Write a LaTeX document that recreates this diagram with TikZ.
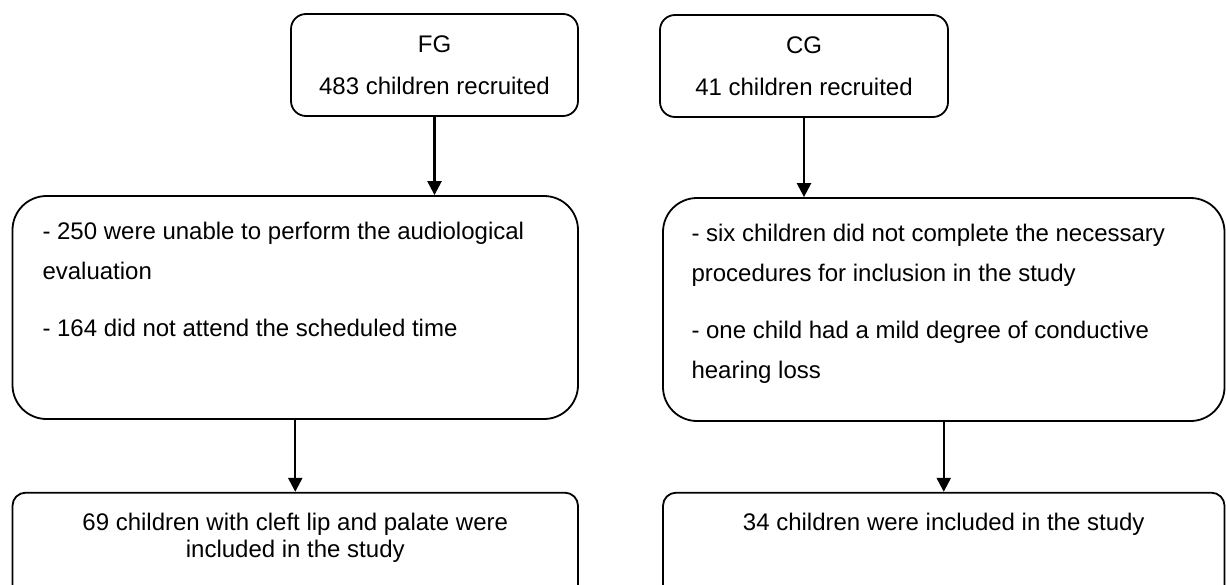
\documentclass[tikz,border=0pt]{standalone}
\usepackage{fontspec}
\setmainfont{Liberation Sans}
\usetikzlibrary{positioning,arrows.meta}

\tikzset{
  box/.style={draw, line width=0.9pt, inner sep=0pt},
  topbox/.style={box, rounded corners=7.5pt, minimum width=143.5pt, minimum height=51pt,
    align=center, font=\fontsize{12}{21}\selectfont},
  exclbox/.style={box, rounded corners=17pt, minimum height=111.5pt},
  endbox/.style={box, rounded corners=6.5pt, minimum height=60pt},
  txt/.style={inner sep=0pt, font=\fontsize{12}{20}\selectfont},
  flow/.style={-{Triangle[width=7pt,length=7pt]}, line width=1.2pt},
}

\begin{document}
\begin{tikzpicture}[x=0.5pt, y=-0.5pt]
  \useasboundingbox (0,0) rectangle (1226,584);
  \clip (0,0) rectangle (1226,584);

  % Define nodes
  \node[topbox] (fg) at (434.5,65) {FG\\483 children recruited};
  \node[topbox, minimum width=144pt] (cg) at (804,66) {CG\\41 children recruited};
  \node[exclbox, minimum width=282.75pt] (fgx) at (295.25,307.5) {};
  \node[exclbox, minimum width=280.75pt] (cgx) at (943.75,309.5) {};
  \node[endbox, minimum width=282.75pt] (fgin) at (295.25,552.7) {};
  \node[endbox, minimum width=280.75pt] (cgin) at (943.75,552.7) {};

  % Box texts
  \node[txt, align=left, below right=13.4pt and 15.25pt of fgx.north west] (fgxtext)
    {- 250 were unable to perform the audiological\\evaluation\\[8.5pt]- 164 did not attend the scheduled time};
  \node[txt, align=left, below right=13.4pt and 14.5pt of cgx.north west] (cgxtext)
    {- six children did not complete the necessary\\procedures for inclusion in the study\\[8.5pt]- one child had a mild degree of conductive\\hearing loss};
  \node[txt, align=center, font=\fontsize{12}{13.5}\selectfont, below=10.25pt of fgin.north] (fgintext)
    {69 children with cleft lip and palate were\\included in the study};
  \node[txt, below=10.25pt of cgin.north] (cgintext) {34 children were included in the study};

  % Connect the nodes
  \draw[flow] (fg.south) -- (fg.south |- fgx.north);
  \draw[flow] (cg.south) -- (cg.south |- cgx.north);
  \draw[flow] (fgx.south) -- (fgin.north);
  \draw[flow] (cgx.south) -- (cgin.north);

\end{tikzpicture}
\end{document}
